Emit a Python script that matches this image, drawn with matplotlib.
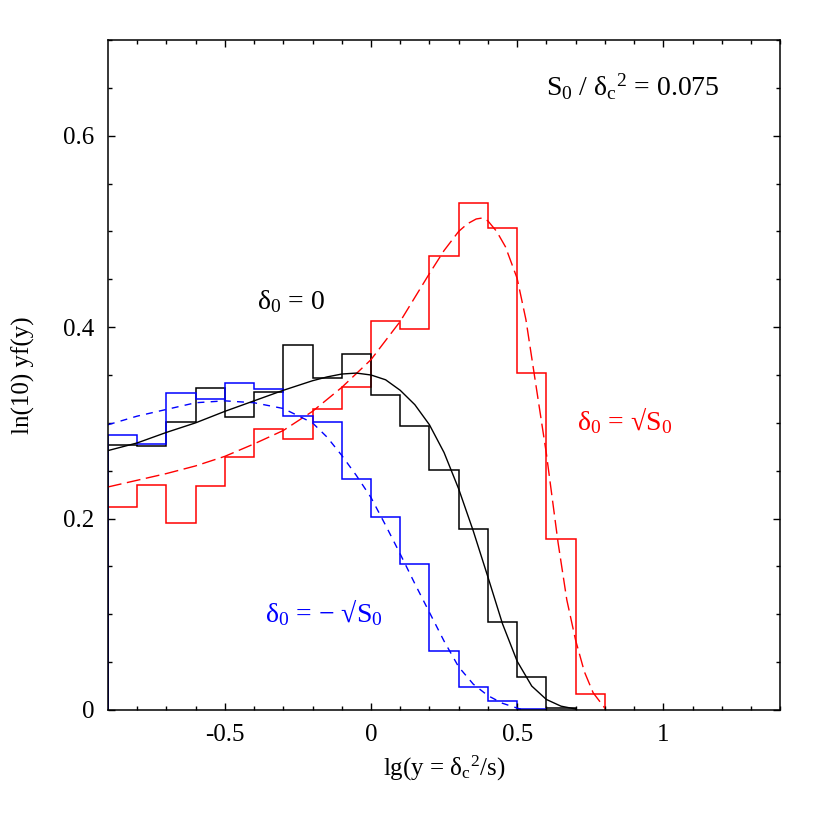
import matplotlib
matplotlib.use('Agg')
import matplotlib.pyplot as plt
import numpy as np

plt.rcParams['font.family'] = ['Liberation Serif', 'DejaVu Serif']
plt.rcParams['mathtext.fontset'] = 'custom'
plt.rcParams['mathtext.rm'] = 'Liberation Serif'
plt.rcParams['mathtext.it'] = 'Liberation Serif:italic'
plt.rcParams['mathtext.default'] = 'regular'

# histogram bin edges (lg y)
edges_black = np.round(np.arange(-0.9, 0.71, 0.1), 2)
edges_blue = np.round(np.arange(-0.9, 0.61, 0.1), 2)
edges_red = np.round(np.arange(-0.9, 0.81, 0.1), 2)

# delta_0 = 0
hist_black = [0.277, 0.276, 0.301, 0.336, 0.306, 0.332, 0.381, 0.347, 0.372,
              0.329, 0.297, 0.251, 0.189, 0.092, 0.034, 0.002]
# delta_0 = -sqrt(S0)
hist_blue = [0.287, 0.278, 0.331, 0.325, 0.342, 0.335, 0.307, 0.301, 0.241,
             0.202, 0.153, 0.062, 0.024, 0.009, 0.001]
# delta_0 = +sqrt(S0)
hist_red = [0.212, 0.235, 0.195, 0.234, 0.264, 0.294, 0.283, 0.314, 0.337,
            0.406, 0.398, 0.474, 0.530, 0.504, 0.352, 0.179, 0.017]

# theory curves
x_black = [-0.9, -0.8, -0.7, -0.6, -0.5, -0.4, -0.3, -0.2, -0.15, -0.1, -0.05,
           0.0, 0.05, 0.1, 0.15, 0.2, 0.25, 0.3, 0.35, 0.4, 0.45, 0.5, 0.55,
           0.6, 0.65, 0.7]
y_black = [0.271, 0.279, 0.290, 0.300, 0.312, 0.323, 0.334, 0.344, 0.348, 0.351,
           0.352, 0.350, 0.345, 0.334, 0.319, 0.298, 0.269, 0.231, 0.187, 0.139,
           0.090, 0.051, 0.025, 0.011, 0.004, 0.001]

x_blue = [-0.9, -0.8, -0.7, -0.6, -0.5, -0.4, -0.3, -0.2, -0.15, -0.1, -0.05,
          0.0, 0.05, 0.1, 0.15, 0.2, 0.25, 0.3, 0.35, 0.4, 0.45, 0.5, 0.52]
y_blue = [0.298, 0.307, 0.314, 0.321, 0.323, 0.321, 0.315, 0.300, 0.285, 0.266,
          0.245, 0.222, 0.193, 0.163, 0.132, 0.102, 0.072, 0.045, 0.027, 0.015,
          0.007, 0.002, 0.0]

x_red = [-0.9, -0.8, -0.7, -0.6, -0.5, -0.4, -0.3, -0.2, -0.1, 0.0, 0.1, 0.2,
         0.25, 0.3, 0.33, 0.36, 0.38, 0.4, 0.43, 0.46, 0.5, 0.53, 0.55, 0.6,
         0.64, 0.67, 0.7, 0.73, 0.76, 0.8]
y_red = [0.233, 0.240, 0.247, 0.255, 0.265, 0.278, 0.292, 0.312, 0.337, 0.366,
         0.406, 0.456, 0.480, 0.500, 0.508, 0.513, 0.514, 0.511, 0.500, 0.484,
         0.451, 0.408, 0.368, 0.268, 0.175, 0.115, 0.073, 0.040, 0.018, 0.002]

fig = plt.figure(figsize=(8.3, 8.3), dpi=100)
ax = fig.add_axes([0.130, 0.1446, 0.810, 0.8072])

ax.stairs(hist_red, edges_red, color='#ff0000', lw=1.1)
ax.stairs(hist_black, edges_black, color='black', lw=1.1)
ax.stairs(hist_blue, edges_blue, color='#0000ff', lw=1.1)

ax.plot(x_red, y_red, color='#ff0000', lw=1.0, dashes=(10, 4))
ax.plot(x_blue, y_blue, color='#0000ff', lw=1.0, dashes=(5, 4.5))
ax.plot(x_black, y_black, color='black', lw=1.0)

ax.set_xlim(-0.9, 1.4)
ax.set_ylim(0, 0.7)
ax.set_xticks([-0.5, 0, 0.5, 1])
ax.set_xticklabels(['-0.5', '0', '0.5', '1'])
ax.set_xticks(np.arange(-0.8, 1.41, 0.1), minor=True)
ax.set_yticks([0, 0.2, 0.4, 0.6])
ax.set_yticklabels(['0', '0.2', '0.4', '0.6'])
ax.set_yticks(np.arange(0, 0.71, 0.05), minor=True)
ax.tick_params(which='both', direction='in', top=True, right=True,
               labelsize=18, width=1.0)
ax.tick_params(which='major', length=5, pad=10)
ax.tick_params(which='minor', length=2.8)
for s in ax.spines.values():
    s.set_linewidth(1.1)

ax.set_xlabel(r'lg(y = $\delta_c{}^{2}$/s)', fontsize=18, labelpad=6)
ax.set_ylabel('ln(10) yf(y)', fontsize=18, labelpad=20)

ax.text(0.897, 0.651, r'$S_0$ / $\delta_c{}^{2}$ = 0.075', fontsize=20,
        ha='center', va='center')
ax.text(-0.274, 0.427, r'$\delta_0$ = 0', fontsize=20, ha='center', va='center')
ax.text(0.866, 0.302, '$\\delta_0$ = √$S_0$', fontsize=20, color='#ff0000',
        ha='center', va='center')
ax.text(-0.161, 0.102, '$\\delta_0$ = − √$S_0$', fontsize=20, color='#0000ff',
        ha='center', va='center')

plt.savefig('out.png', dpi=100)
